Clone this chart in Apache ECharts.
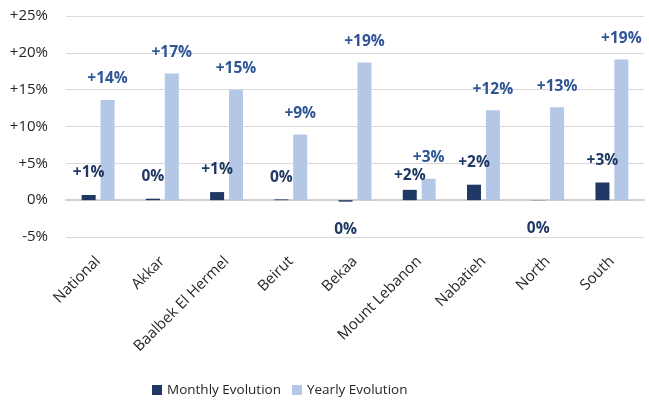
<!DOCTYPE html>
<html><head><meta charset="utf-8">
<script src="https://cdn.jsdelivr.net/npm/echarts@6/dist/echarts.min.js"></script>
<style>html,body{margin:0;padding:0;background:#fff}#c{width:649px;height:401px}</style>
</head><body><div id="c"></div>
<script>
const categories = ['National','Akkar','Baalbek El Hermel','Beirut','Bekaa','Mount Lebanon','Nabatieh','North','South'];
const monthly = [0.7, 0.2, 1.1, 0.1, -0.2, 1.4, 2.1, -0.03, 2.4];
const yearly = [13.6, 17.2, 15.0, 8.9, 18.7, 2.9, 12.2, 12.6, 19.1];
const monthlyLabels = ['+1%','0%','+1%','0%','0%','+2%','+2%','0%','+3%'];
const yearlyLabels = ['+14%','+17%','+15%','+9%','+19%','+3%','+12%','+13%','+19%'];
const yTicks = ['-5%','0%','+5%','+10%','+15%','+20%','+25%'];

const FONT = 'Open Sans';
const chart = echarts.init(document.getElementById('c'));
function items(vals, labels, color, dist, adj) {
  return vals.map((v, i) => ({
    value: v,
    label: {
      show: true, position: 'outside', formatter: labels[i],
      distance: v < 0 ? 20 : (adj && adj[i] != null ? adj[i] : dist),
      color: color, fontFamily: FONT, fontWeight: 'bold', fontSize: 15.5
    }
  }));
}
chart.setOption({
  animation: false,
  grid: {left: 66, right: 5, top: 16, bottom: 164, containLabel: false},
  legend: {
    bottom: -1, left: 147, itemWidth: 10, itemHeight: 10, itemGap: 11,
    icon: 'rect',
    textStyle: {fontFamily: FONT, fontSize: 13.5, color: '#262626'},
    data: ['Monthly Evolution', 'Yearly Evolution']
  },
  xAxis: {
    type: 'category', data: categories,
    axisTick: {show: false},
    axisLine: {show: true, lineStyle: {color: '#d0d0d0', width: 2}},
    axisLabel: {rotate: 45, interval: 0, fontFamily: FONT, fontSize: 15, color: '#262626', margin: 22}
  },
  yAxis: {
    type: 'value', min: -5, max: 25, interval: 5,
    axisLine: {show: false}, axisTick: {show: false},
    splitLine: {lineStyle: {color: '#d9d9d9', width: 1}},
    axisLabel: {
      fontFamily: FONT, fontSize: 15, color: '#262626', margin: 18,
      formatter: v => yTicks[Math.round((v + 5) / 5)]
    }
  },
  series: [
    {name: 'Monthly Evolution', type: 'bar', barWidth: 14, barGap: '35%',
     itemStyle: {color: '#203864'},
     data: items(monthly, monthlyLabels, '#203864', 14, [null,null,null,null,null,6,null,null,null])},
    {name: 'Yearly Evolution', type: 'bar', barWidth: 14,
     itemStyle: {color: '#b4c7e7'},
     data: items(yearly, yearlyLabels, '#2f5597', 13)}
  ]
});
</script></body></html>
